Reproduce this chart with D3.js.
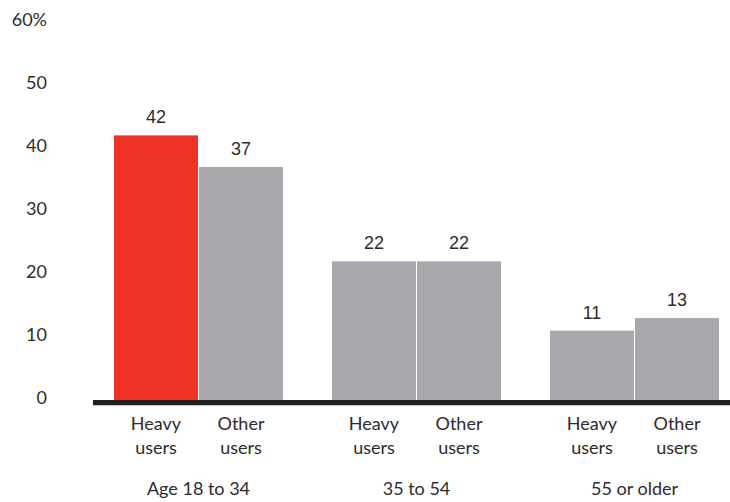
<!DOCTYPE html>
<html>
<head>
<meta charset="utf-8">
<script src="https://cdn.jsdelivr.net/npm/d3@7"></script>
<style>
  html, body { margin: 0; padding: 0; background: #fff; }
  svg { display: block; }
  .tick-label, .cat-label, .group-label { font-family: Lato, "Open Sans", sans-serif; font-weight: 400; fill: #2e2b2c; }
  .value-label { font-family: "Liberation Sans", Arial, sans-serif; fill: #2e2b2c; }
</style>
</head>
<body>
<svg id="chart" width="730" height="502"></svg>
<script>
// Share of each age group, heavy users vs. other users (%)
const groups = ["Age 18 to 34", "35 to 54", "55 or older"];
const segments = ["Heavy users", "Other users"];
const heavyUsers = [42, 22, 11];
const otherUsers = [37, 22, 13];
const yTicks = [0, 10, 20, 30, 40, 50, 60];

const rows = groups.map((g, i) => ({
  group: g,
  values: [
    { segment: segments[0], value: heavyUsers[i] },
    { segment: segments[1], value: otherUsers[i] }
  ]
}));

const svg = d3.select("#chart");

const x0 = d3.scaleBand().domain(groups).range([114, 719]).paddingInner(0.2248).paddingOuter(0);
const x1 = d3.scaleBand().domain(segments).range([0, x0.bandwidth()]).paddingInner(1 / 85).paddingOuter(0);
const y = d3.scaleLinear().domain([0, 60]).range([400, 22]);

// y tick labels (no axis line)
svg.append("g")
  .selectAll("text")
  .data(yTicks)
  .join("text")
  .attr("class", "tick-label")
  .attr("x", 47)
  .attr("y", d => y(d) - 2)
  .attr("dy", "0.35em")
  .attr("text-anchor", "end")
  .attr("font-size", 18)
  .text(d => d === 60 ? d + "%" : d);

// bars
const gGroups = svg.append("g")
  .selectAll("g")
  .data(rows)
  .join("g")
  .attr("transform", d => `translate(${x0(d.group)},0)`);

gGroups.selectAll("rect")
  .data((d, i) => d.values.map(v => ({ ...v, gi: i })))
  .join("rect")
  .attr("x", d => x1(d.segment))
  .attr("width", x1.bandwidth())
  .attr("y", d => y(d.value))
  .attr("height", d => y(0) - y(d.value))
  .attr("fill", d => (d.gi === 0 && d.segment === segments[0]) ? "#ee3325" : "#a7a8ab");

// value labels
gGroups.selectAll("text.value-label")
  .data(d => d.values)
  .join("text")
  .attr("class", "value-label")
  .attr("x", d => x1(d.segment) + x1.bandwidth() / 2)
  .attr("y", d => y(d.value) - 12)
  .attr("text-anchor", "middle")
  .attr("font-size", 18)
  .text(d => d.value);

// segment labels, two lines
gGroups.selectAll("text.cat-label")
  .data(d => d.values)
  .join("text")
  .attr("class", "cat-label")
  .attr("text-anchor", "middle")
  .attr("font-size", 18)
  .each(function (d) {
    const words = d.segment.split(" ");
    const t = d3.select(this);
    const cx = x1(d.segment) + x1.bandwidth() / 2;
    t.append("tspan").attr("x", cx).attr("y", 430).text(words[0]);
    t.append("tspan").attr("x", cx).attr("y", 454).text(words[1]);
  });

// group labels
svg.append("g")
  .selectAll("text")
  .data(groups)
  .join("text")
  .attr("class", "group-label")
  .attr("x", d => x0(d) + x0.bandwidth() / 2)
  .attr("y", 495)
  .attr("text-anchor", "middle")
  .attr("font-size", 18)
  .text(d => d);

// baseline
svg.append("line")
  .attr("x1", 93)
  .attr("x2", 730)
  .attr("y1", y(0) + 2.6)
  .attr("y2", y(0) + 2.6)
  .attr("stroke", "#231f20")
  .attr("stroke-width", 5.2);
</script>
</body>
</html>
